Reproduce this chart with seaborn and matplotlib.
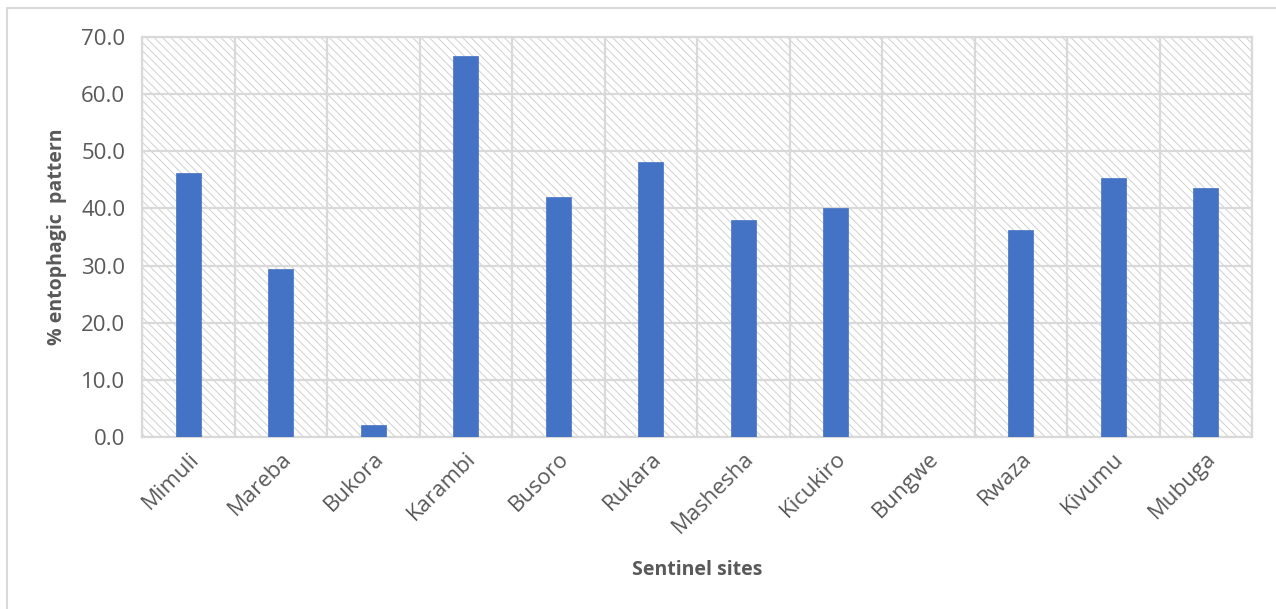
import matplotlib
matplotlib.use("Agg")
import matplotlib.pyplot as plt
import seaborn as sns
import pandas as pd
from matplotlib.patches import Rectangle
from matplotlib.lines import Line2D
from matplotlib.ticker import FuncFormatter, FixedLocator

sites = ["Mimuli", "Mareba", "Bukora", "Karambi", "Busoro", "Rukara",
         "Mashesha", "Kicukiro", "Bungwe", "Rwaza", "Kivumu", "Mubuga"]
entophagic_pct = [46.2, 29.4, 2.1, 66.7, 42.0, 48.1, 38.0, 40.0, 0.0, 36.3, 45.4, 43.5]
y_ticks = [0, 10, 20, 30, 40, 50, 60, 70]

sns.set_theme(style="white")
plt.rcParams['font.family'] = ['Open Sans', 'DejaVu Sans']
plt.rcParams['hatch.linewidth'] = 0.7

GRID = "#D9D9D9"
HATCH = "#D0D0D0"
TXT = "#595959"

df = pd.DataFrame({"site": sites, "pct": entophagic_pct})

fig = plt.figure(figsize=(12.76, 6.09), dpi=100)
ax = fig.add_axes([142/1276, 1 - 437/609, (1252-142)/1276, (437-37)/609])

# hatched background
bg = Rectangle((0, 0), 1, 1, transform=ax.transAxes, facecolor="white",
               edgecolor=HATCH, hatch="\\\\\\\\", linewidth=0, zorder=0)
ax.add_patch(bg)

sns.barplot(data=df, x="site", y="pct", color="#4472C4", width=0.27,
            saturation=1, ax=ax, zorder=3, edgecolor="#4472C4", linewidth=0.5)

ax.set_ylim(0, 70)
ax.set_xlim(-0.5, len(sites) - 0.5)
ax.yaxis.set_major_locator(FixedLocator(y_ticks))
ax.yaxis.set_major_formatter(FuncFormatter(lambda v, p: f"{v:.1f}"))
ax.xaxis.set_minor_locator(FixedLocator([i - 0.5 for i in range(len(sites) + 1)]))

ax.grid(axis="y", which="major", color=GRID, linewidth=1.6, zorder=1)
ax.grid(axis="x", which="minor", color=GRID, linewidth=1.6, zorder=1)
ax.grid(axis="x", which="major", visible=False)
ax.set_axisbelow(True)

for s in ax.spines.values():
    s.set_color(GRID)
    s.set_linewidth(1.6)

ax.tick_params(axis="both", which="both", length=0, colors=TXT, labelsize=16)
ax.tick_params(axis="y", pad=12)
ax.tick_params(axis="x", pad=8)
for lbl in ax.get_xticklabels():
    lbl.set_rotation(45)
    lbl.set_ha("right")
    lbl.set_rotation_mode("anchor")

ax.set_xlabel("Sentinel sites", fontsize=14, fontweight="bold", color=TXT, labelpad=16)
ax.set_ylabel("% entophagic  pattern", fontsize=14, fontweight="bold", color=TXT, labelpad=10)

# outer chart border (left and top visible)
fig.add_artist(Line2D([7/1276, 7/1276], [0, 1 - 8/609], transform=fig.transFigure,
                      color=GRID, linewidth=1.5))
fig.add_artist(Line2D([7/1276, 1], [1 - 8/609, 1 - 8/609], transform=fig.transFigure,
                      color=GRID, linewidth=1.5))

fig.savefig("out.png", dpi=100, facecolor="white")
